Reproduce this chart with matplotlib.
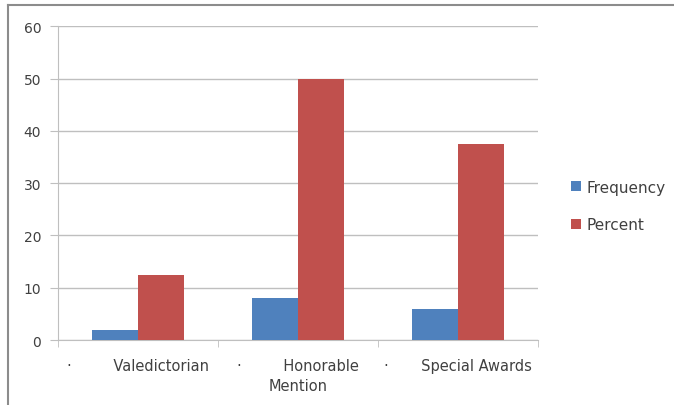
import numpy as np
import matplotlib.pyplot as plt
from matplotlib.lines import Line2D

# Award data
categories = ["·         Valedictorian", "·         Honorable\nMention", "·       Special Awards"]
frequency = [2, 8, 6]
percent = [12.5, 50, 37.5]

blue = "#4F81BD"
red = "#C0504D"
grid_color = "#BFBFBF"

fig = plt.figure(figsize=(6.74, 4.06), dpi=100)
ax = fig.add_axes([0.086, 0.160, 0.712, 0.773])

x = np.arange(len(categories))
w = 0.2875
ax.bar(x - w / 2, frequency, w, color=blue, label="Frequency", zorder=3)
ax.bar(x + w / 2, percent, w, color=red, label="Percent", zorder=3)

ax.set_xlim(-0.5, len(categories) - 0.5)
ax.set_ylim(0, 60)
ax.set_yticks(range(0, 61, 10))
ax.yaxis.grid(True, color=grid_color, linewidth=1, zorder=0)

ax.set_xticks(x)
ax.set_xticklabels(categories, fontsize=10.5, color="#404040", linespacing=1.45)
ax.set_xticks(np.arange(-0.5, len(categories)), minor=True)
ax.tick_params(axis="x", which="major", length=0, pad=13)
ax.tick_params(axis="x", which="minor", length=5, color=grid_color, direction="out")
ax.tick_params(axis="y", length=6, color=grid_color, labelsize=10, labelcolor="#404040", pad=6)

for side in ["top", "right"]:
    ax.spines[side].set_visible(False)
for side in ["left", "bottom"]:
    ax.spines[side].set_color(grid_color)

ax.legend(loc="center left", bbox_to_anchor=(1.04, 0.427), frameon=False,
          fontsize=11, handlelength=0.65, handleheight=0.65, labelspacing=1.5,
          handletextpad=0.4, labelcolor="#404040")

# outer frame (top and left edges visible)
fig.add_artist(Line2D([0.012, 1.0], [0.984, 0.984], transform=fig.transFigure, color="#8C8C8C", linewidth=1.5))
fig.add_artist(Line2D([0.012, 0.012], [0.0, 0.984], transform=fig.transFigure, color="#8C8C8C", linewidth=1.5))

fig.savefig("out.png", dpi=100)
